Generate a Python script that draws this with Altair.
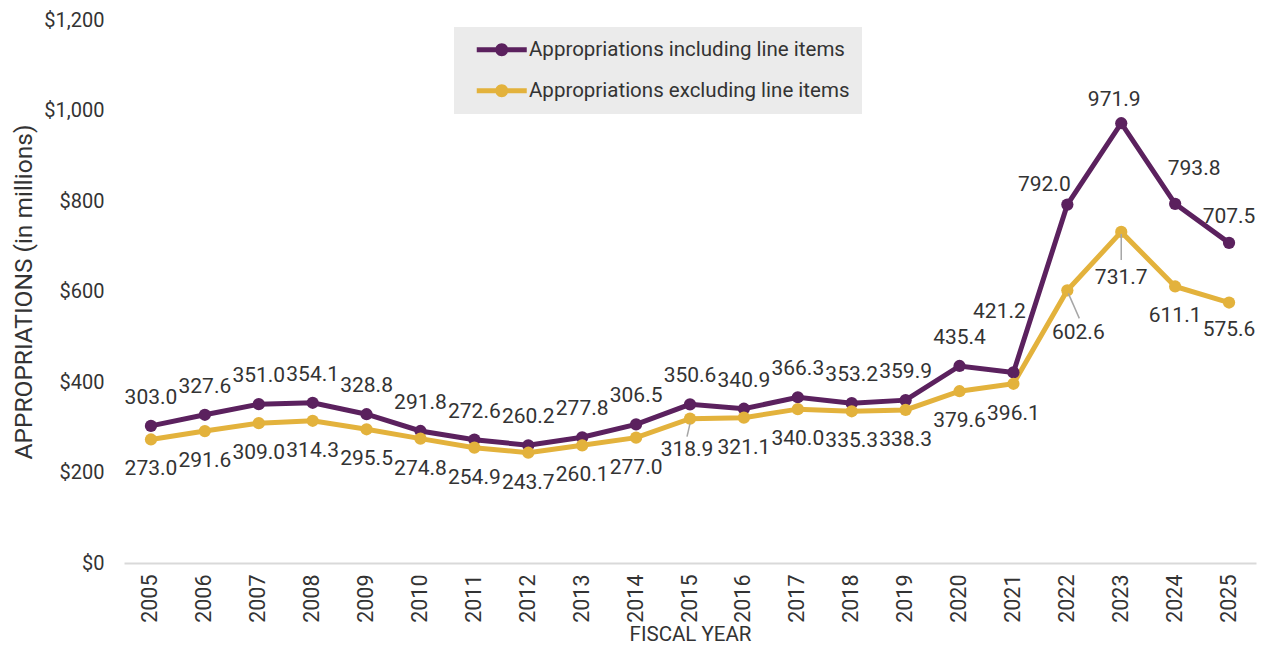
import altair as alt
import pandas as pd

years = [str(y) for y in range(2005, 2026)]
incl = [303.0, 327.6, 351.0, 354.1, 328.8, 291.8, 272.6, 260.2, 277.8, 306.5,
        350.6, 340.9, 366.3, 353.2, 359.9, 435.4, 421.2, 792.0, 971.9, 793.8, 707.5]
excl = [273.0, 291.6, 309.0, 314.3, 295.5, 274.8, 254.9, 243.7, 260.1, 277.0,
        318.9, 321.1, 340.0, 335.3, 338.3, 379.6, 396.1, 602.6, 731.7, 611.1, 575.6]
series_names = ["Appropriations including line items", "Appropriations excluding line items"]
colors = ["#5B215E", "#E3B23C"]
y_ticks = [0, 200, 400, 600, 800, 1000, 1200]

rows = []
for yr, a, b in zip(years, incl, excl):
    rows.append({"year": yr, "series": series_names[0], "value": a})
    rows.append({"year": yr, "series": series_names[1], "value": b})
df = pd.DataFrame(rows)

FONT = "Roboto"
TXT = "#333333"

x_enc = alt.X(
    "year:O",
    scale=alt.Scale(type="point", padding=0.5),
    sort=years,
    axis=alt.Axis(
        title="FISCAL YEAR", labelAngle=270, ticks=False, labelPadding=11,
        domainColor="#d9d9d9", domainWidth=2, labelFontSize=21.5, titleFontSize=20.5,
        titleFontWeight="normal", titleY=77, titleBaseline="alphabetic",
        labelColor=TXT, titleColor=TXT, labelFont=FONT, titleFont=FONT,
    ),
)
y_enc = alt.Y(
    "value:Q",
    scale=alt.Scale(domain=[0, 1200]),
    axis=alt.Axis(
        values=y_ticks, format="$,.0f", domain=False, ticks=False, grid=False,
        labelPadding=20, title="APPROPRIATIONS (in millions)", labelFontSize=20,
        titleFontSize=24.5, titleFontWeight="normal", titlePadding=7,
        labelColor=TXT, titleColor=TXT, labelFont=FONT, titleFont=FONT,
    ),
)
legend_path = ("M-2.5,-0.25H2.5V0.25H-2.5Z "
               "M-0.65,0A0.65,0.65 0 1 1 0.65,0A0.65,0.65 0 1 1 -0.65,0Z")
color_enc = alt.Color(
    "series:N",
    scale=alt.Scale(domain=series_names, range=colors),
    legend=alt.Legend(
        title=None, orient="none", legendX=330, legendY=7, fillColor="#ebebeb",
        padding=12.5, symbolType=legend_path, symbolSize=400, symbolStrokeWidth=0,
        symbolOffset=25, labelFontSize=20.5, labelFont=FONT, labelColor=TXT,
        labelLimit=0, rowPadding=20, labelOffset=17,
    ),
)

base = alt.Chart(df).encode(x=x_enc, y=y_enc, color=color_enc)

lines = base.mark_line(strokeWidth=5)
points = base.mark_point(filled=True, size=150, opacity=1)


def labels(series, yrs, dx, dy):
    return alt.Chart(df).mark_text(dx=dx, dy=dy, fontSize=21, font=FONT, color=TXT, baseline="middle").encode(
        x=x_enc, y=y_enc, text=alt.Text("value:Q", format=".1f")
    ).transform_filter(
        alt.FieldEqualPredicate(field="series", equal=series)
    ).transform_filter(
        alt.FieldOneOfPredicate(field="year", oneOf=yrs)
    )


inc_special = ["2021", "2022", "2023", "2024", "2025"]
exc_special = ["2015", "2022", "2023", "2024", "2025"]
label_layers = [
    labels(series_names[0], [y for y in years if y not in inc_special], 0, -28),
    labels(series_names[0], ["2021"], -14, -60),
    labels(series_names[0], ["2022"], -23, -20),
    labels(series_names[0], ["2023"], -7, -23),
    labels(series_names[0], ["2024"], 19, -35),
    labels(series_names[0], ["2025"], 0, -26),
    labels(series_names[1], [y for y in years if y not in exc_special], 0, 30),
    labels(series_names[1], ["2015"], -3, 31),
    labels(series_names[1], ["2022"], 11, 43),
    labels(series_names[1], ["2023"], 0, 46),
    labels(series_names[1], ["2024"], 0, 30),
    labels(series_names[1], ["2025"], 0, 27),
]


def leader(yr, xo, yo, x2o, y2o):
    return alt.Chart(df).mark_rule(color="#a6a6a6", strokeWidth=1.5, xOffset=xo, yOffset=yo,
                                   x2Offset=x2o, y2Offset=y2o).encode(
        x=x_enc, y=y_enc, x2=alt.X2("year:O"), y2=alt.Y2("value:Q")
    ).transform_filter(
        alt.FieldEqualPredicate(field="series", equal=series_names[1])
    ).transform_filter(
        alt.FieldEqualPredicate(field="year", equal=yr)
    )


leaders = [
    leader("2015", 0, 5, -3, 18),
    leader("2022", 1, 3, 12, 28),
    leader("2023", 0, 2, 0, 28),
]

chart = alt.layer(lines, points, *leaders, *label_layers).properties(
    width=1132, height=543,
    autosize=alt.AutoSizeParams(type="none"),
    padding={"left": 116, "top": 12, "right": 2, "bottom": 84},
).configure(font=FONT, view=alt.ViewConfig(stroke=None))

chart.save("out.html", embed_options={"renderer": "svg", "actions": False})
